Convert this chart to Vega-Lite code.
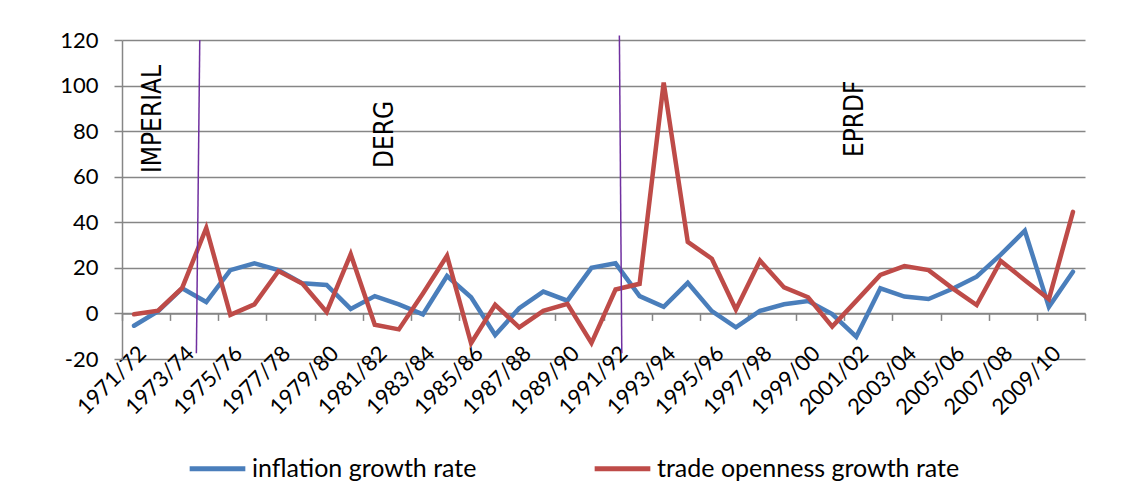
{
  "$schema": "https://vega.github.io/schema/vega-lite/v6.json",
  "width": 963,
  "height": 319,
  "autosize": "none",
  "padding": {"left": 122, "top": 40, "right": 40, "bottom": 137},
  "background": "white",
  "config": {
    "view": {"stroke": null},
    "font": "Lato"
  },
  "datasets": {
    "rates": [
      {"year": "1971/72", "start": 1971, "inflation growth rate": -5.4, "trade openness growth rate": -0.4},
      {"year": "1972/73", "start": 1972, "inflation growth rate": 1.0, "trade openness growth rate": 1.2},
      {"year": "1973/74", "start": 1973, "inflation growth rate": 11.0, "trade openness growth rate": 11.2},
      {"year": "1974/75", "start": 1974, "inflation growth rate": 5.0, "trade openness growth rate": 37.5},
      {"year": "1975/76", "start": 1975, "inflation growth rate": 19.0, "trade openness growth rate": -0.6},
      {"year": "1976/77", "start": 1976, "inflation growth rate": 22.0, "trade openness growth rate": 4.0},
      {"year": "1977/78", "start": 1977, "inflation growth rate": 19.0, "trade openness growth rate": 18.6},
      {"year": "1978/79", "start": 1978, "inflation growth rate": 13.2, "trade openness growth rate": 13.0},
      {"year": "1979/80", "start": 1979, "inflation growth rate": 12.5, "trade openness growth rate": 0.6},
      {"year": "1980/81", "start": 1980, "inflation growth rate": 2.0, "trade openness growth rate": 26.0},
      {"year": "1981/82", "start": 1981, "inflation growth rate": 7.6, "trade openness growth rate": -5.0},
      {"year": "1982/83", "start": 1982, "inflation growth rate": 4.0, "trade openness growth rate": -7.0},
      {"year": "1983/84", "start": 1983, "inflation growth rate": -0.4, "trade openness growth rate": 8.8},
      {"year": "1984/85", "start": 1984, "inflation growth rate": 16.4, "trade openness growth rate": 25.3},
      {"year": "1985/86", "start": 1985, "inflation growth rate": 7.1, "trade openness growth rate": -13.1},
      {"year": "1986/87", "start": 1986, "inflation growth rate": -9.5, "trade openness growth rate": 3.8},
      {"year": "1987/88", "start": 1987, "inflation growth rate": 2.3, "trade openness growth rate": -6.1},
      {"year": "1988/89", "start": 1988, "inflation growth rate": 9.6, "trade openness growth rate": 1.1},
      {"year": "1989/90", "start": 1989, "inflation growth rate": 5.6, "trade openness growth rate": 4.2},
      {"year": "1990/91", "start": 1990, "inflation growth rate": 20.0, "trade openness growth rate": -13.0},
      {"year": "1991/92", "start": 1991, "inflation growth rate": 22.0, "trade openness growth rate": 10.5},
      {"year": "1992/93", "start": 1992, "inflation growth rate": 7.6, "trade openness growth rate": 13.0},
      {"year": "1993/94", "start": 1993, "inflation growth rate": 2.9, "trade openness growth rate": 101.3},
      {"year": "1994/95", "start": 1994, "inflation growth rate": 13.4, "trade openness growth rate": 31.4},
      {"year": "1995/96", "start": 1995, "inflation growth rate": 1.0, "trade openness growth rate": 24.0},
      {"year": "1996/97", "start": 1996, "inflation growth rate": -6.1, "trade openness growth rate": 1.7},
      {"year": "1997/98", "start": 1997, "inflation growth rate": 1.1, "trade openness growth rate": 23.2},
      {"year": "1998/99", "start": 1998, "inflation growth rate": 4.0, "trade openness growth rate": 11.4},
      {"year": "1999/00", "start": 1999, "inflation growth rate": 5.4, "trade openness growth rate": 7.1},
      {"year": "2000/01", "start": 2000, "inflation growth rate": -0.3, "trade openness growth rate": -5.8},
      {"year": "2001/02", "start": 2001, "inflation growth rate": -10.2, "trade openness growth rate": 5.5},
      {"year": "2002/03", "start": 2002, "inflation growth rate": 11.0, "trade openness growth rate": 16.9},
      {"year": "2003/04", "start": 2003, "inflation growth rate": 7.4, "trade openness growth rate": 20.8},
      {"year": "2004/05", "start": 2004, "inflation growth rate": 6.3, "trade openness growth rate": 19.0},
      {"year": "2005/06", "start": 2005, "inflation growth rate": 10.8, "trade openness growth rate": 11.0},
      {"year": "2006/07", "start": 2006, "inflation growth rate": 16.1, "trade openness growth rate": 3.7},
      {"year": "2007/08", "start": 2007, "inflation growth rate": 25.8, "trade openness growth rate": 23.0},
      {"year": "2008/09", "start": 2008, "inflation growth rate": 36.3, "trade openness growth rate": 14.6},
      {"year": "2009/10", "start": 2009, "inflation growth rate": 2.9, "trade openness growth rate": 6.3},
      {"year": "2010/11", "start": 2010, "inflation growth rate": 18.3, "trade openness growth rate": 44.6}
    ],
    "regime_changes": [
      {"top_x": 1973.73, "bottom_x": 1973.59, "top": 120, "bottom": -17.5},
      {"top_x": 1991.16, "bottom_x": 1991.26, "top": 122, "bottom": -17.5}
    ],
    "regimes": [
      {"regime": "IMPERIAL", "at": 1971.79, "from": 61.6},
      {"regime": "DERG", "at": 1981.42, "from": 63.8},
      {"regime": "EPRDF", "at": 2000.93, "from": 68.6}
    ]
  },
  "layer": [
    {
      "data": {"name": "rates"},
      "transform": [
        {"fold": ["inflation growth rate", "trade openness growth rate"], "as": ["series", "rate"]}
      ],
      "mark": {"type": "line", "strokeWidth": 4.5, "strokeJoin": "miter", "strokeCap": "round"},
      "encoding": {
        "x": {
          "field": "start",
          "type": "quantitative",
          "scale": {"domain": [1970.5, 2010.5], "nice": false, "zero": false},
          "axis": {
            "title": null,
            "values": [1970.5, 1971.5, 1972.5, 1973.5, 1974.5, 1975.5, 1976.5, 1977.5, 1978.5, 1979.5, 1980.5, 1981.5, 1982.5, 1983.5, 1984.5, 1985.5, 1986.5, 1987.5, 1988.5, 1989.5, 1990.5, 1991.5, 1992.5, 1993.5, 1994.5, 1995.5, 1996.5, 1997.5, 1998.5, 1999.5, 2000.5, 2001.5, 2002.5, 2003.5, 2004.5, 2005.5, 2006.5, 2007.5, 2008.5, 2009.5, 2010.5],
            "labelExpr": "(datum.value + 0.5) % 2 == 1 && datum.value < 2010 ? (datum.value + 0.5) + '/' + slice('0' + ((datum.value + 1.5) % 100), -2) : ''",
            "offset": -45.6,
            "grid": false,
            "domainColor": "#868686",
            "domainWidth": 1.5,
            "tickColor": "#868686",
            "tickWidth": 1.5,
            "tickSize": 7,
            "labelAngle": -45,
            "labelAlign": "right",
            "labelBaseline": "middle",
            "labelOffset": 20,
            "labelPadding": 29,
            "labelFontSize": 22,
            "labelColor": "#000000",
            "labelOverlap": false,
            "labelFlush": false,
            "labelBound": false
          }
        },
        "y": {
          "field": "rate",
          "type": "quantitative",
          "scale": {"domain": [-20, 120], "nice": false, "zero": false},
          "axis": {
            "title": null,
            "values": [-20, 0, 20, 40, 60, 80, 100, 120],
            "labelExpr": "'' + datum.value",
            "grid": true,
            "gridColor": "#868686",
            "gridWidth": 1.5,
            "domainColor": "#868686",
            "domainWidth": 1.5,
            "tickColor": "#868686",
            "tickWidth": 1.5,
            "tickSize": 8,
            "labelPadding": 16,
            "labelFontSize": 22,
            "labelColor": "#000000"
          }
        },
        "color": {
          "field": "series",
          "type": "nominal",
          "scale": {
            "domain": ["inflation growth rate", "trade openness growth rate"],
            "range": ["#4A7EBB", "#BE4B48"]
          },
          "legend": {
            "title": null,
            "orient": "none",
            "direction": "horizontal",
            "legendX": 65,
            "legendY": 398,
            "padding": 0,
            "symbolType": "stroke",
            "symbolSize": 3100,
            "symbolStrokeWidth": 5,
            "labelFontSize": 25,
            "labelColor": "#000000",
            "labelOffset": 4,
            "columnPadding": 107,
            "labelLimit": 400
          }
        }
      }
    },
    {
      "data": {"name": "regime_changes"},
      "mark": {"type": "rule", "color": "#7030A0", "strokeWidth": 1.5},
      "encoding": {
        "x": {"field": "top_x", "type": "quantitative"},
        "x2": {"field": "bottom_x"},
        "y": {"field": "top", "type": "quantitative"},
        "y2": {"field": "bottom"}
      }
    },
    {
      "data": {"name": "regimes"},
      "mark": {
        "type": "text",
        "angle": 270,
        "align": "left",
        "baseline": "middle",
        "font": "DejaVu Sans Condensed",
        "fontSize": 26,
        "color": "#000000"
      },
      "encoding": {
        "x": {"field": "at", "type": "quantitative"},
        "y": {"field": "from", "type": "quantitative"},
        "text": {"field": "regime"}
      }
    }
  ]
}
